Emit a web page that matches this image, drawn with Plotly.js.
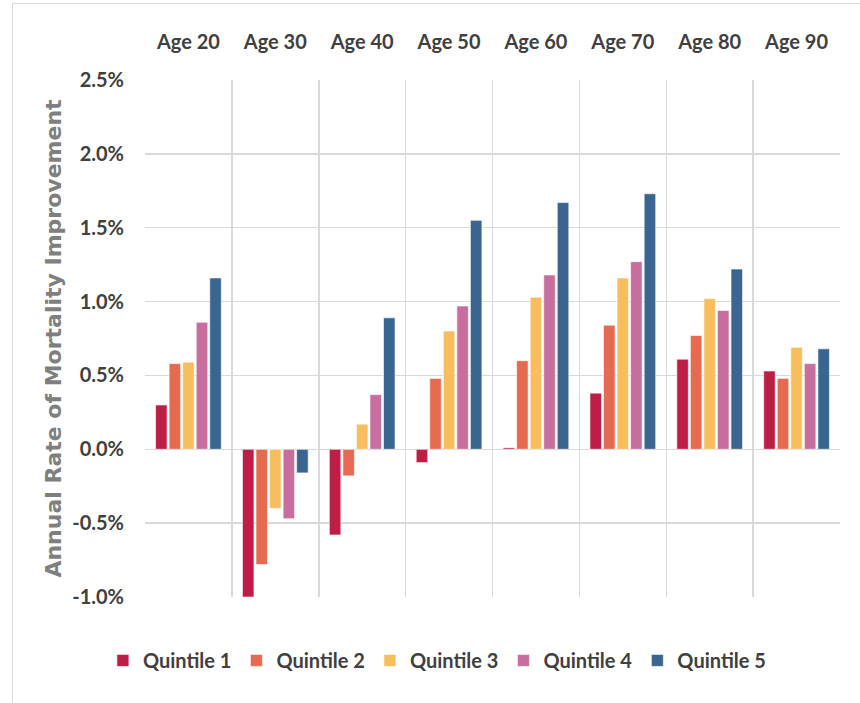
<!DOCTYPE html>
<html>
<head>
<meta charset="utf-8">
<script src="https://cdn.plot.ly/plotly-3.0.1.min.js"></script>
<style>
  html, body { margin: 0; padding: 0; background: #fff; }
  #wrap { position: relative; width: 860px; height: 703px; }
  #chart { width: 860px; height: 703px; }
  #frame { position: absolute; left: 12px; top: 3px; right: 0; bottom: 0;
           border-top: 1px solid #d9d9d9; border-left: 1px solid #d9d9d9; pointer-events: none; }
</style>
</head>
<body>
<div id="wrap"><div id="chart"></div><div id="frame"></div></div>
<script>
const categories = ["Age 20", "Age 30", "Age 40", "Age 50", "Age 60", "Age 70", "Age 80", "Age 90"];
const seriesNames = ["Quintile 1", "Quintile 2", "Quintile 3", "Quintile 4", "Quintile 5"];
const q1 = [0.30, -1.00, -0.58, -0.09, 0.01, 0.38, 0.61, 0.53];
const q2 = [0.58, -0.78, -0.18, 0.48, 0.60, 0.84, 0.77, 0.48];
const q3 = [0.59, -0.40, 0.17, 0.80, 1.03, 1.16, 1.02, 0.69];
const q4 = [0.86, -0.47, 0.37, 0.97, 1.18, 1.27, 0.94, 0.58];
const q5 = [1.16, -0.16, 0.89, 1.55, 1.67, 1.73, 1.22, 0.68];
const seriesValues = [q1, q2, q3, q4, q5];
const colors = ["#BE1E45", "#E66A50", "#F8BE5E", "#C86E9E", "#3B6591"];
const yTickVals = [-1.0, -0.5, 0.0, 0.5, 1.0, 1.5, 2.0, 2.5];
const yTickText = yTickVals.map(v => v.toFixed(1) + "%");

const FONT = 'Lato, Roboto, sans-serif';
const TITLE_FONT = '"DejaVu Sans", Verdana, sans-serif';

const traces = seriesNames.map((name, i) => ({
  type: "bar",
  name: name,
  x: categories,
  y: seriesValues[i],
  marker: { color: colors[i], line: { color: "rgba(255,255,255,0.6)", width: 1 } },
  hovertemplate: "%{x}: %{y:.2f}%<extra>" + name + "</extra>"
}));

const layout = {
  width: 860,
  height: 703,
  margin: { l: 145, r: 20, t: 80, b: 106 },
  paper_bgcolor: "#ffffff",
  plot_bgcolor: "#ffffff",
  barmode: "group",
  bargap: 0.22,
  bargroupgap: 0.15,
  font: { family: FONT, color: "#595959" },
  xaxis: {
    type: "category",
    side: "top",
    tickson: "boundaries",
    showgrid: true,
    gridcolor: "#d9d9d9",
    gridwidth: 1.5,
    ticks: "",
    ticklabelstandoff: 26,
    tickfont: { family: FONT, size: 20, color: "#404040", weight: "bold" },
    showline: false,
    zeroline: false,
    fixedrange: true
  },
  yaxis: {
    range: [-1.0, 2.5],
    tickmode: "array",
    tickvals: yTickVals,
    ticktext: yTickText,
    showgrid: true,
    gridcolor: "#d9d9d9",
    gridwidth: 1.5,
    zeroline: true,
    zerolinecolor: "#d9d9d9",
    zerolinewidth: 1.5,
    ticks: "",
    ticklabelstandoff: 20,
    tickfont: { family: FONT, size: 20, color: "#404040", weight: "bold" },
    title: {
      text: "Annual Rate of Mortality Improvement",
      font: { family: TITLE_FONT, size: 22, color: "#7f7f7f", weight: 700 },
      standoff: 4
    },
    fixedrange: true
  },
  showlegend: true,
  legend: {
    orientation: "h",
    x: 0.42,
    xanchor: "center",
    y: -0.085,
    yanchor: "top",
    font: { family: FONT, size: 20, color: "#404040", weight: "bold" },
    itemwidth: 30,
    traceorder: "normal"
  }
};

Plotly.newPlot("chart", traces, layout, { displayModeBar: false, staticPlot: true });
</script>
</body>
</html>
